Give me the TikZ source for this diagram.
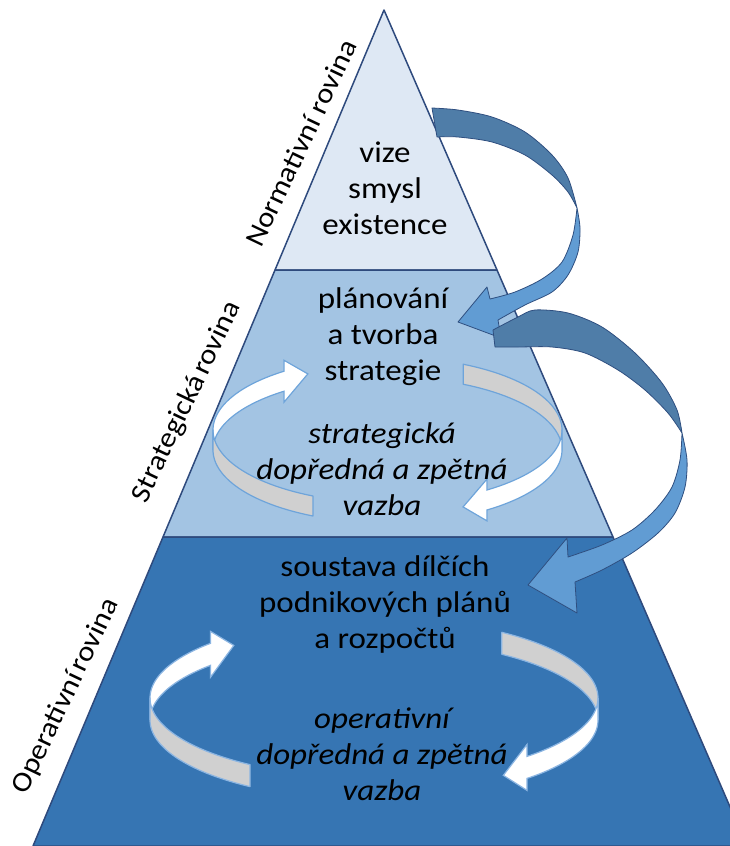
\documentclass[tikz,border=0pt]{standalone}
\usepackage{fontspec}
\setmainfont{Carlito}[FakeStretch=1.1]
\definecolor{edgec}{HTML}{2E4A7D}
\definecolor{tierA}{HTML}{DEE8F4}
\definecolor{tierB}{HTML}{A3C4E3}
\definecolor{tierC}{HTML}{3675B3}
\definecolor{arrDark}{HTML}{4F7DA8}
\definecolor{arrLight}{HTML}{619CD3}
\definecolor{arrEdge}{HTML}{2F4F80}
\definecolor{ribEdge}{HTML}{6EA4DA}
\definecolor{ribEdgeB}{HTML}{8BB5E2}
\definecolor{ribGray}{HTML}{D0D0D0}
\tikzset{
  tiertext/.style={align=center, text=black, font=\fontsize{30}{36}\selectfont, inner sep=0pt},
  tierital/.style={tiertext, font=\fontsize{30}{36}\selectfont\itshape},
  sidelabel/.style={text=black, font=\fontsize{28}{34}\selectfont, inner sep=0pt, rotate=64.5},
  tierbox/.style={draw=edgec, line width=1.5pt, line join=round},
  bigdark/.style={fill=arrDark, draw=arrEdge, line width=0.8pt, line join=round},
  biglight/.style={fill=arrLight, draw=arrEdge, line width=0.8pt, line join=round},
}
% plain ribbon segment: cx cy a b h t1 t2 fill edge
\newcommand\ribseg[9]{%
  \filldraw[fill=#8, draw=#9, line width=1.2pt, line join=round]
    plot[domain=#6:#7, samples=40, variable=\t] ({#1+#3*cos(\t)},{#2+#4*sin(\t)})
    -- plot[domain=#7:#6, samples=40, variable=\t] ({#1+#3*cos(\t)},{#2+#4*sin(\t)+#5})
    -- cycle;}
% ribbon segment ending with an arrow head: cx cy a b h t1 t2 ext edge
\newcommand\ribhead[9]{%
  \pgfmathsetmacro\hx{#1+#3*cos(#7)}%
  \pgfmathsetmacro\hy{#2+#4*sin(#7)}%
  \pgfmathsetmacro\tx{-#3*sin(#7)/100}%
  \pgfmathsetmacro\ty{#4*cos(#7)/100}%
  \pgfmathsetmacro\tn{veclen(\tx,\ty)}%
  \pgfmathsetmacro\px{\hx+25*\tx/\tn}%
  \pgfmathsetmacro\py{\hy+#5/2+25*\ty/\tn}%
  \filldraw[fill=white, draw=#9, line width=1.2pt, line join=miter]
    plot[domain=#6:#7, samples=40, variable=\t] ({#1+#3*cos(\t)},{#2+#4*sin(\t)})
    -- ({\hx},{\hy-#8}) -- ({\px},{\py}) -- ({\hx},{\hy+#5+#8})
    -- plot[domain=#7:#6, samples=40, variable=\t] ({#1+#3*cos(\t)},{#2+#4*sin(\t)+#5})
    -- cycle;}
\begin{document}
\begin{tikzpicture}[x=1pt,y=-1pt]
\useasboundingbox (0,0) rectangle (730,846);
\clip (0,0) rectangle (730,846);
% tiers
\filldraw[tierbox, fill=tierA] (384,10) -- (497,270) -- (275,270) -- cycle;
\filldraw[tierbox, fill=tierB] (275,270) -- (497,270) -- (613,537) -- (163,537) -- cycle;
\filldraw[tierbox, fill=tierC] (163,537) -- (613,537) -- (747,846) -- (33,846) -- cycle;
% side labels
\node[sidelabel] (lnorm) at (301,143) {Normativní rovina};
\node[sidelabel] (lstrat) at (187,402) {Strategická\hspace{-0.12em} rovina};
\node[sidelabel] (loper) at (66,696) {Operativní\hspace{-0.12em} rovina};
% strategic cycle
\ribhead{387.5}{430}{174.5}{73}{20}{180}{233.6}{11}{ribEdge}
\ribseg{387.5}{430}{174.5}{73}{20}{115.3}{180}{ribGray}{ribEdge}
\ribseg{387.5}{430}{174.5}{73}{20}{-64.3}{0}{ribGray}{ribEdge}
\ribhead{387.5}{430}{174.5}{73}{20}{0}{55.2}{11}{ribEdge}
% operational cycle
\ribhead{374}{698}{224}{80}{22}{180}{223.1}{12}{ribEdgeB}
\ribseg{374}{698}{224}{80}{22}{123.6}{180}{ribGray}{ribEdgeB}
\ribseg{374}{698}{224}{80}{22}{-55.2}{0}{ribGray}{ribEdgeB}
\ribhead{374}{698}{224}{80}{22}{0}{46.9}{12}{ribEdgeB}
% tier texts
\node[tiertext] (tnorm) at (385,188) {vize\\smysl\\existence};
\node[tiertext] (tplan) at (383,337) {plánování\\a tvorba\\strategie};
\node[tierital] (tsfb) at (382,469) {strategická\\dopředná a zpětná\\vazba};
\node[tiertext] (tsys) at (385,604) {soustava dílčích\\podnikových plánů\\a rozpočtů};
\node[tierital] (tofb) at (382,754) {operativní\\dopředná a zpětná\\vazba};
% big arrow 1
\filldraw[bigdark]
  plot[smooth] coordinates {(432,108) (458,110) (492,117) (525,132) (552,155) (568,178) (577,208)}
  -- plot[smooth] coordinates {(577,208) (568,192) (552,175) (525,155) (492,142) (458,137) (437,137)} -- cycle;
\filldraw[biglight]
  plot[smooth] coordinates {(577,208) (573,235) (562,262) (542,279) (515,292) (490,299)}
  -- (487,287) -- (458,322) -- (501,338)
  -- plot[smooth] coordinates {(498,320) (525,305) (552,292) (568,275) (578,252) (580,228) (577,208)} -- cycle;
% big arrow 2
\filldraw[bigdark]
  plot[smooth] coordinates {(493,330) (518,317) (535,310) (568,313) (602,327) (635,353) (662,383) (677,410) (682,433)}
  -- plot[smooth] coordinates {(682,433) (668,413) (645,390) (618,370) (585,353) (552,347) (518,347) (495,347)} -- cycle;
\filldraw[biglight]
  plot[smooth] coordinates {(682,433) (680,460) (672,487) (655,510) (632,530) (602,545) (568,557)}
  -- (567,538) -- (528,585) -- (577,613)
  -- plot[smooth] coordinates {(575,582) (602,570) (632,553) (658,533) (675,513) (685,487) (687,460) (682,433)} -- cycle;
\end{tikzpicture}
\end{document}
